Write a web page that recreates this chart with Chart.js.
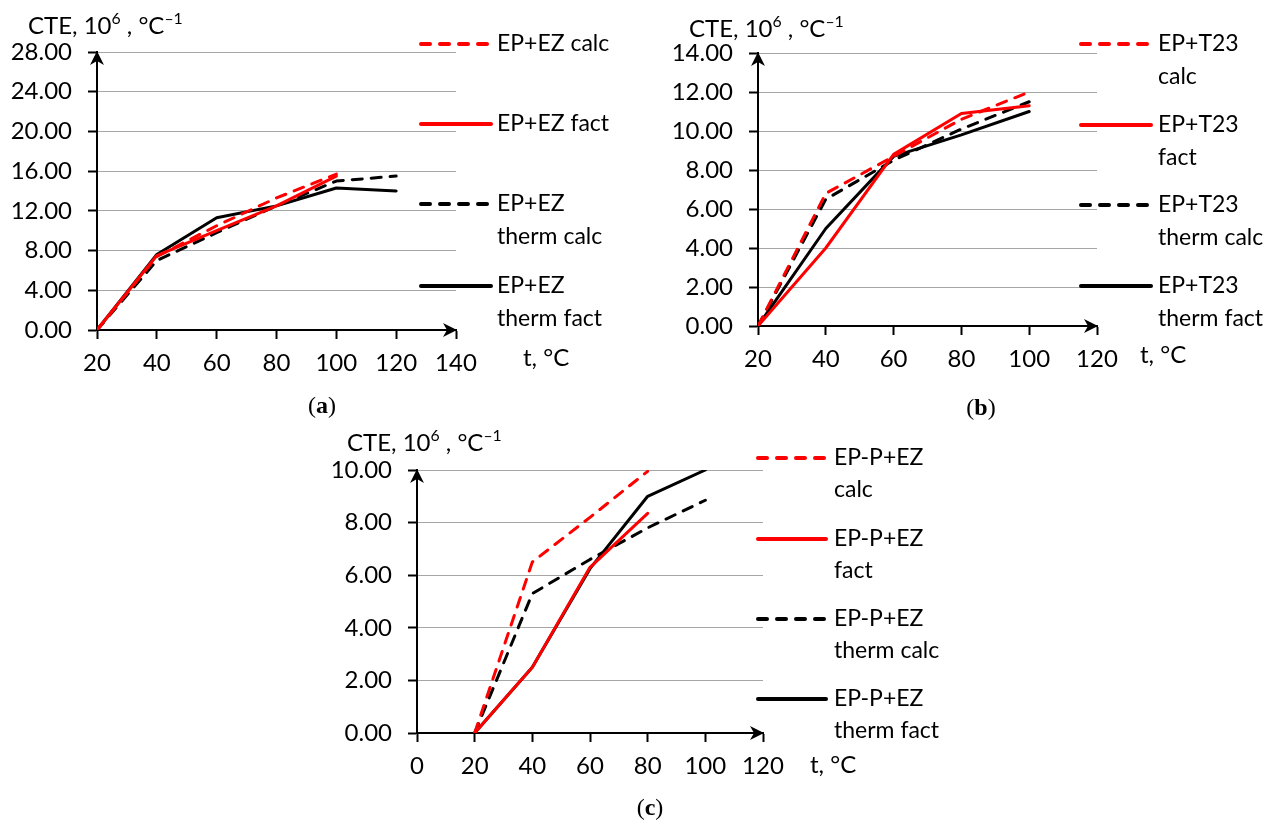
<!DOCTYPE html>
<html>
<head>
<meta charset="utf-8">
<script src="https://cdn.jsdelivr.net/npm/chart.js@4.4.1/dist/chart.umd.min.js"></script>
<style>
  html, body { margin: 0; padding: 0; background: #fff; width: 1284px; height: 823px; overflow: hidden; }
  canvas { position: absolute; }
  .cap { position: absolute; font-family: "Liberation Serif", "DejaVu Serif", serif; font-size: 24px; color: #000;
         transform: translate(-50%, -50%); white-space: nowrap; }
</style>
</head>
<body>
<canvas id="chartA" width="640" height="400" style="left:0;top:0"></canvas>
<canvas id="chartB" width="644" height="400" style="left:640px;top:0"></canvas>
<canvas id="chartC" width="640" height="403" style="left:320px;top:420px"></canvas>
<div class="cap" style="left:322px;top:405px">(<b>a</b>)</div>
<div class="cap" style="left:981px;top:407px">(<b>b</b>)</div>
<div class="cap" style="left:650px;top:807px">(<b>c</b>)</div>
<script>
// ---- (a) EP+EZ ----
const tempsA = [20, 40, 60, 80, 100, 120];
const epEzCalc      = [0, 7.4, 10.5, 13.3, 15.7, null];
const epEzFact      = [0, 7.5, 10.0, 12.5, 15.5, null];
const epEzThermCalc = [0, 7.0, 9.8, 12.5, 15.0, 15.5];
const epEzThermFact = [0, 7.6, 11.3, 12.5, 14.3, 14.0];

// ---- (b) EP+T23 ----
const tempsB = [20, 40, 60, 80, 100];
const epT23Calc      = [0, 6.8, 8.7, 10.6, 12.0];
const epT23Fact      = [0, 4.0, 8.8, 10.9, 11.3];
const epT23ThermCalc = [0, 6.5, 8.5, 10.1, 11.5];
const epT23ThermFact = [0, 5.0, 8.7, 9.8, 11.0];

// ---- (c) EP-P+EZ ----
const tempsC = [20, 40, 60, 80, 100];
const epPEzCalc      = [0, 6.5, 8.2, 9.95, null];
const epPEzFact      = [0, 2.5, 6.3, 8.35, null];
const epPEzThermCalc = [0, 5.3, 6.6, 7.8, 8.85];
const epPEzThermFact = [0, 2.5, 6.25, 9.0, 10.0];

// axis ranges / tick steps
const xRangeA = [20, 140], yRangeA = [0, 28], yStepA = 4;
const xRangeB = [20, 120], yRangeB = [0, 14], yStepB = 2;
const xRangeC = [0, 120],  yRangeC = [0, 10], yStepC = 2;
const xStep = 20;

const FONT = "Lato, 'Liberation Sans', sans-serif";
const FS = 24;      // ticks, axis titles
const FS_LEG = 23;  // legend entries
const RED = '#ff0000', BLACK = '#000000';

Chart.defaults.font.family = FONT;
Chart.defaults.font.size = FS;
Chart.defaults.color = '#000';

function toPoints(xs, ys) {
  return xs.map((x, i) => ({ x: x, y: ys[i] })).filter(p => p.y !== null);
}

// filled arrow head at (x, y) pointing along (dx, dy)
function arrowHead(ctx, x, y, dx, dy) {
  const L = 14, W = 7, N = 10;
  const nx = -dy, ny = dx;
  ctx.beginPath();
  ctx.moveTo(x, y);
  ctx.lineTo(x - L * dx + W * nx, y - L * dy + W * ny);
  ctx.lineTo(x - N * dx, y - N * dy);
  ctx.lineTo(x - L * dx - W * nx, y - L * dy - W * ny);
  ctx.closePath();
  ctx.fill();
}

// text run with superscript parts, vertically centred on y
function richText(ctx, parts, x, y, size) {
  let cx = x;
  const base = y + size * 0.36;
  parts.forEach(p => {
    const s = p.sup ? size * 0.66 : size;
    ctx.font = s + 'px ' + FONT;
    ctx.textBaseline = 'alphabetic';
    ctx.textAlign = 'left';
    ctx.fillText(p.t, cx, p.sup ? base - size * 0.42 : base);
    cx += ctx.measureText(p.t).width;
  });
}

const overlay = {
  id: 'overlay',
  afterDraw(chart, args, o) {
    const ctx = chart.ctx, a = chart.chartArea;
    ctx.save();
    ctx.fillStyle = '#000';
    arrowHead(ctx, a.left, a.top - 1, 0, -1);
    arrowHead(ctx, a.right + 1, a.bottom, 1, 0);

    richText(ctx, [{ t: 'CTE, 10' }, { t: '6', sup: true }, { t: ' , °C' }, { t: '–1', sup: true }],
      o.title.x, o.title.y, FS);
    richText(ctx, [{ t: 't, °C' }], o.unit.x, o.unit.y, FS);

    // legend
    const lg = o.legend;
    chart.data.datasets.forEach((ds, i) => {
      const y = lg.ys[i];
      ctx.save();
      ctx.strokeStyle = ds.borderColor;
      ctx.lineWidth = 4;
      ctx.lineCap = 'round';
      ctx.setLineDash(ds.borderDash && ds.borderDash.length ? [9, 10] : []);
      ctx.beginPath();
      ctx.moveTo(lg.x1, y);
      ctx.lineTo(lg.x2, y);
      ctx.stroke();
      ctx.restore();
      ctx.fillStyle = '#000';
      ctx.font = FS_LEG + 'px ' + FONT;
      ctx.textBaseline = 'middle';
      ctx.textAlign = 'left';
      ds.label.split('\n').forEach((line, k) => ctx.fillText(line, lg.tx, y + k * lg.lh));
    });
    ctx.restore();
  }
};

function makeChart(id, cfg) {
  const datasets = cfg.series.map(s => ({
    label: s.label,
    data: toPoints(cfg.temps, s.values),
    borderColor: s.color,
    backgroundColor: s.color,
    borderWidth: 3,
    borderDash: s.dashed ? [10, 9] : [],
    borderCapStyle: 'round',
    borderJoinStyle: 'round',
    pointRadius: 0,
    tension: 0,
    fill: false
  }));
  return new Chart(document.getElementById(id), {
    type: 'line',
    data: { datasets: datasets },
    options: {
      responsive: false,
      animation: false,
      layout: { padding: cfg.padding },
      plugins: { legend: { display: false }, tooltip: { enabled: false }, overlay: cfg.overlay },
      scales: {
        x: {
          type: 'linear', min: cfg.xRange[0], max: cfg.xRange[1],
          border: { display: true, color: '#000', width: 2 },
          grid: { drawOnChartArea: false, tickLength: 9, tickColor: '#000', tickWidth: 2 },
          ticks: { stepSize: xStep, padding: 10, maxRotation: 0, autoSkip: false, callback: v => String(v) },
          afterFit: s => { s.height = 50; }
        },
        y: {
          type: 'linear', min: cfg.yRange[0], max: cfg.yRange[1],
          border: { display: true, color: '#000', width: 2 },
          grid: { color: '#a6a6a6', lineWidth: 1, tickLength: 9, tickColor: '#000', tickWidth: 2 },
          ticks: { stepSize: cfg.yStep, padding: 16, callback: v => v.toFixed(2) },
          afterFit: s => { s.width = 90; }
        }
      }
    },
    plugins: [overlay]
  });
}

makeChart('chartA', {
  temps: tempsA, xRange: xRangeA, yRange: yRangeA, yStep: yStepA,
  padding: { left: 7, right: 184, top: 52, bottom: 20 },
  series: [
    { label: 'EP+EZ calc', values: epEzCalc, color: RED, dashed: true },
    { label: 'EP+EZ fact', values: epEzFact, color: RED, dashed: false },
    { label: 'EP+EZ\ntherm calc', values: epEzThermCalc, color: BLACK, dashed: true },
    { label: 'EP+EZ\ntherm fact', values: epEzThermFact, color: BLACK, dashed: false }
  ],
  overlay: {
    title: { x: 28, y: 25 }, unit: { x: 523, y: 357 },
    legend: { x1: 421, x2: 491, tx: 497, ys: [44, 124, 204, 286], lh: 33 }
  }
});

makeChart('chartB', {
  temps: tempsB, xRange: xRangeB, yRange: yRangeB, yStep: yStepB,
  padding: { left: 28, right: 187, top: 53, bottom: 24 },
  series: [
    { label: 'EP+T23\ncalc', values: epT23Calc, color: RED, dashed: true },
    { label: 'EP+T23\nfact', values: epT23Fact, color: RED, dashed: false },
    { label: 'EP+T23\ntherm calc', values: epT23ThermCalc, color: BLACK, dashed: true },
    { label: 'EP+T23\ntherm fact', values: epT23ThermFact, color: BLACK, dashed: false }
  ],
  overlay: {
    title: { x: 49, y: 28 }, unit: { x: 500, y: 354 },
    legend: { x1: 441, x2: 511, tx: 518, ys: [44, 125, 205, 286], lh: 33 }
  }
});

makeChart('chartC', {
  temps: tempsC, xRange: xRangeC, yRange: yRangeC, yStep: yStepC,
  padding: { left: 7, right: 197, top: 50, bottom: 40 },
  series: [
    { label: 'EP-P+EZ\ncalc', values: epPEzCalc, color: RED, dashed: true },
    { label: 'EP-P+EZ\nfact', values: epPEzFact, color: RED, dashed: false },
    { label: 'EP-P+EZ\ntherm calc', values: epPEzThermCalc, color: BLACK, dashed: true },
    { label: 'EP-P+EZ\ntherm fact', values: epPEzThermFact, color: BLACK, dashed: false }
  ],
  overlay: {
    title: { x: 27, y: 22 }, unit: { x: 490, y: 344 },
    legend: { x1: 438, x2: 506, tx: 514, ys: [38, 119, 199, 279], lh: 32 }
  }
});
</script>
</body>
</html>
